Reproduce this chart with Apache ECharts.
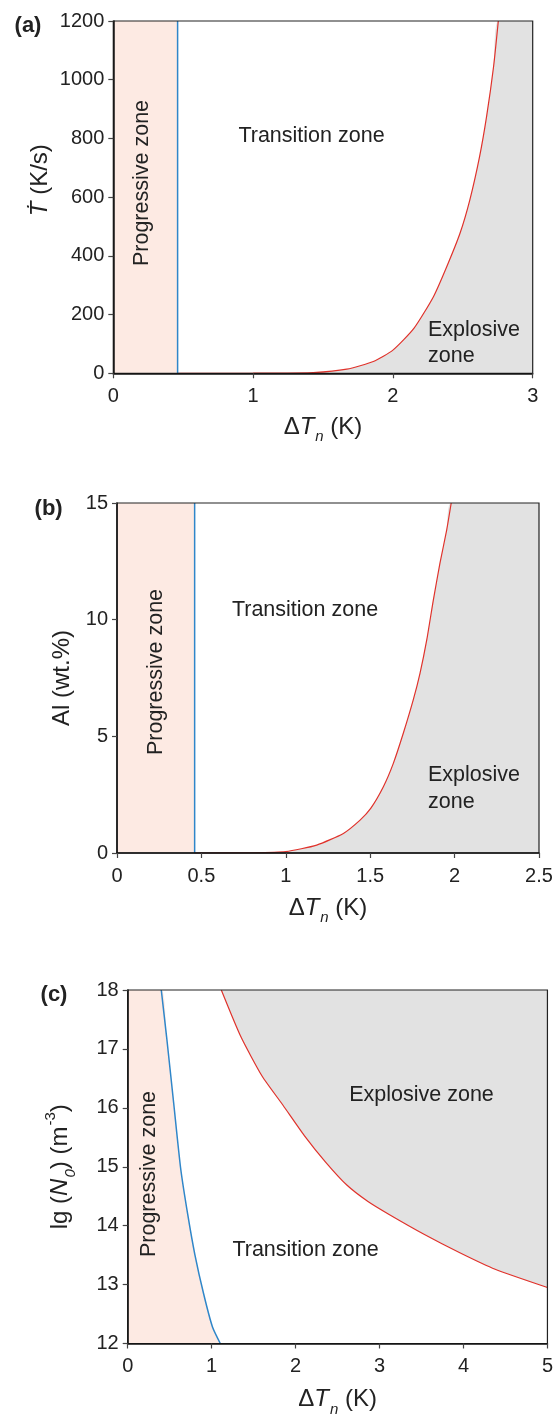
<!DOCTYPE html>
<html>
<head>
<meta charset="utf-8">
<script src="https://cdn.jsdelivr.net/npm/echarts@6/dist/echarts.min.js"></script>
<style>
  html, body { margin: 0; padding: 0; background: #fff; }
  #chart { width: 556px; height: 1418px; }
</style>
</head>
<body>
<div id="chart"></div>
<script>
// (a) cooling rate vs undercooling
const aXTicks = [0, 1, 2, 3];
const aYTicks = [0, 200, 400, 600, 800, 1000, 1200];
const aBlueX = 0.46;
const aRedX = [0.46, 1.0, 1.2, 1.43, 1.67, 1.86, 2.0, 2.15, 2.29, 2.385, 2.48, 2.55, 2.62, 2.67, 2.72, 2.754];
const aRedY = [0, 0.3, 0.8, 2, 14, 40, 79, 153, 261, 363, 477, 590, 738, 874, 1044, 1200];

// (b) Al content vs undercooling
const bXTicks = [0, 0.5, 1, 1.5, 2, 2.5];
const bYTicks = [0, 5, 10, 15];
const bBlueX = 0.46;
const bRedX = [0.46, 0.79, 1.0, 1.183, 1.341, 1.44, 1.503, 1.578, 1.637, 1.696, 1.755, 1.795, 1.835, 1.874, 1.913, 1.953, 1.98];
const bRedY = [0, 0.01, 0.06, 0.34, 0.84, 1.41, 1.91, 2.84, 3.84, 5.13, 6.56, 7.7, 9.13, 10.84, 12.41, 13.84, 15];

// (c) nucleation density vs undercooling
const cXTicks = [0, 1, 2, 3, 4, 5];
const cYTicks = [12, 13, 14, 15, 16, 17, 18];
const cBlueX = [0.40, 0.463, 0.547, 0.631, 0.715, 0.80, 0.905, 1.01, 1.103];
const cBlueY = [18, 17.21, 16.09, 14.97, 14.19, 13.51, 12.84, 12.28, 12.0];
const cRedX = [1.115, 1.347, 1.6, 1.852, 2.104, 2.357, 2.61, 2.862, 3.114, 3.535, 3.956, 4.377, 5.0];
const cRedY = [18, 17.21, 16.54, 16.04, 15.53, 15.08, 14.69, 14.41, 14.19, 13.85, 13.54, 13.26, 12.95];

const F = '"Liberation Sans", Arial, "DejaVu Sans", sans-serif';
const RED = '#e0322b';
const BLUE = '#2f86c9';
const PINK = '#fdeae3';
const GREY = '#e2e2e2';

const zip = (xs, ys) => xs.map((x, i) => [x, ys[i]]);
const last = a => a[a.length - 1];

const rich = {
  d: { fontSize: 24, color: '#222', fontFamily: F, lineHeight: 26 },
  i: { fontSize: 24, color: '#222', fontFamily: F, fontStyle: 'italic', lineHeight: 26 },
  s: { fontSize: 15, color: '#222', fontFamily: F, fontStyle: 'italic', lineHeight: 15, padding: [20, 0, 0, 1] },
  p: { fontSize: 15, color: '#222', fontFamily: F, lineHeight: 15, padding: [0, 0, 20, 1] }
};
const xName = '{d|Δ}{i|T}{s|n}{d| (K)}';

function xAx(g, ticks, gap) {
  return {
    gridIndex: g, type: 'value', z: 10,
    min: ticks[0], max: last(ticks), interval: ticks[1] - ticks[0],
    name: xName, nameLocation: 'middle', nameGap: gap,
    nameTextStyle: { rich: rich },
    axisLine: { lineStyle: { color: '#111', width: 1.5 } },
    axisTick: { length: 5, lineStyle: { color: '#444', width: 1.2 } },
    axisLabel: { color: '#222', fontSize: 20, fontFamily: F, margin: 13, formatter: v => String(v) },
    splitLine: { show: false }
  };
}
function yAx(g, ticks, name, gap, pad) {
  return {
    gridIndex: g, type: 'value', z: 10,
    min: ticks[0], max: last(ticks), interval: ticks[1] - ticks[0],
    name: name, nameLocation: 'middle', nameGap: gap, nameRotate: 90, nameMoveOverlap: false,
    nameTextStyle: { rich: rich, padding: pad || 0 },
    axisLine: { show: true, lineStyle: { color: '#111', width: 1.5 } },
    axisTick: { show: true, length: 5, lineStyle: { color: '#444', width: 1.2 } },
    axisLabel: { color: '#222', fontSize: 20, fontFamily: F, margin: 9, formatter: v => String(v) },
    splitLine: { show: false }
  };
}
const frame = { show: true, z: 10, backgroundColor: 'transparent', borderColor: '#222', borderWidth: 1.2 };

function fill(g, data, color, origin) {
  return {
    type: 'line', xAxisIndex: g, yAxisIndex: g, data: data, z: 1,
    symbol: 'none', smooth: 0.2, silent: true,
    lineStyle: { width: 0, opacity: 0 },
    areaStyle: { color: color, opacity: 1, origin: origin }
  };
}
function curve(g, data, color, w) {
  return {
    type: 'line', xAxisIndex: g, yAxisIndex: g, data: data, z: 3,
    symbol: 'none', smooth: 0.2, silent: true,
    lineStyle: { color: color, width: w }
  };
}
function band(g, x0, x1) {
  return {
    type: 'line', xAxisIndex: g, yAxisIndex: g, data: [], z: 1, silent: true,
    markArea: { silent: true, itemStyle: { color: PINK }, data: [[{ xAxis: x0 }, { xAxis: x1 }]] }
  };
}

const zoneStyle = { fill: '#222', fontSize: 21.5, fontFamily: F };
function label(x, y, text, rot, align) {
  return {
    type: 'text', x: x, y: y, rotation: rot || 0, z: 20,
    style: Object.assign({ text: text, align: align || 'center', verticalAlign: 'middle' }, zoneStyle)
  };
}
function tag(x, y, text) {
  return {
    type: 'text', x: x, y: y, z: 20,
    style: { text: text, fill: '#222', fontSize: 22, fontWeight: 'bold', fontFamily: F, align: 'center', verticalAlign: 'middle' }
  };
}

const aRed = zip(aRedX, aRedY);
const bRed = zip(bRedX, bRedY);
const cBlue = zip(cBlueX, cBlueY);
const cRed = zip(cRedX, cRedY);

const chart = echarts.init(document.getElementById('chart'), null, { renderer: 'canvas' });
chart.setOption({
  animation: false,
  backgroundColor: '#fff',
  grid: [
    Object.assign({ left: 113.3, top: 21, width: 419.4, height: 352.3 }, frame),
    Object.assign({ left: 117, top: 503, width: 422, height: 350 }, frame),
    Object.assign({ left: 127.7, top: 990, width: 421.6, height: 357 }, frame)
  ],
  xAxis: [xAx(0, aXTicks, 41), xAx(1, bXTicks, 42), xAx(2, cXTicks, 43)],
  yAxis: [
    yAx(0, aYTicks, '{i|Ṫ}{d| (K/s)}', 60, [0, 0, 0, 34]),
    yAx(1, bYTicks, '{d|Al (wt.%)}', 42),
    yAx(2, cYTicks, '{d|lg (}{i|N}{s|0}{d|) (m}{p|-3}{d|)}', 54)
  ],
  series: [
    // (a)
    band(0, aXTicks[0], aBlueX),
    fill(0, aRed.concat([[last(aXTicks), last(aYTicks)]]), GREY, 'start'),
    curve(0, aRed, RED, 1.2),
    curve(0, [[aBlueX, aYTicks[0]], [aBlueX, last(aYTicks)]], BLUE, 1.5),
    // (b)
    band(1, bXTicks[0], bBlueX),
    fill(1, bRed.concat([[last(bXTicks), last(bYTicks)]]), GREY, 'start'),
    curve(1, bRed, RED, 1.2),
    curve(1, [[bBlueX, bYTicks[0]], [bBlueX, last(bYTicks)]], BLUE, 1.5),
    // (c)
    fill(2, [[cXTicks[0], last(cYTicks)]].concat(cBlue), PINK, 'start'),
    curve(2, cBlue, BLUE, 1.5),
    fill(2, cRed, GREY, 'end'),
    curve(2, cRed, RED, 1.2)
  ],
  graphic: [
    tag(28, 26, '(a)'),
    tag(48.6, 509, '(b)'),
    tag(54, 995, '(c)'),
    label(142.5, 183, 'Progressive zone', Math.PI / 2),
    label(311.5, 136, 'Transition zone'),
    label(428, 330, 'Explosive', 0, 'left'),
    label(428, 356, 'zone', 0, 'left'),
    label(156, 672, 'Progressive zone', Math.PI / 2),
    label(305, 610.5, 'Transition zone'),
    label(428, 775, 'Explosive', 0, 'left'),
    label(428, 802, 'zone', 0, 'left'),
    label(149, 1174, 'Progressive zone', Math.PI / 2),
    label(305.5, 1250, 'Transition zone'),
    label(421.5, 1095, 'Explosive zone')
  ]
});
window.addEventListener('resize', () => chart.resize());
</script>
</body>
</html>
